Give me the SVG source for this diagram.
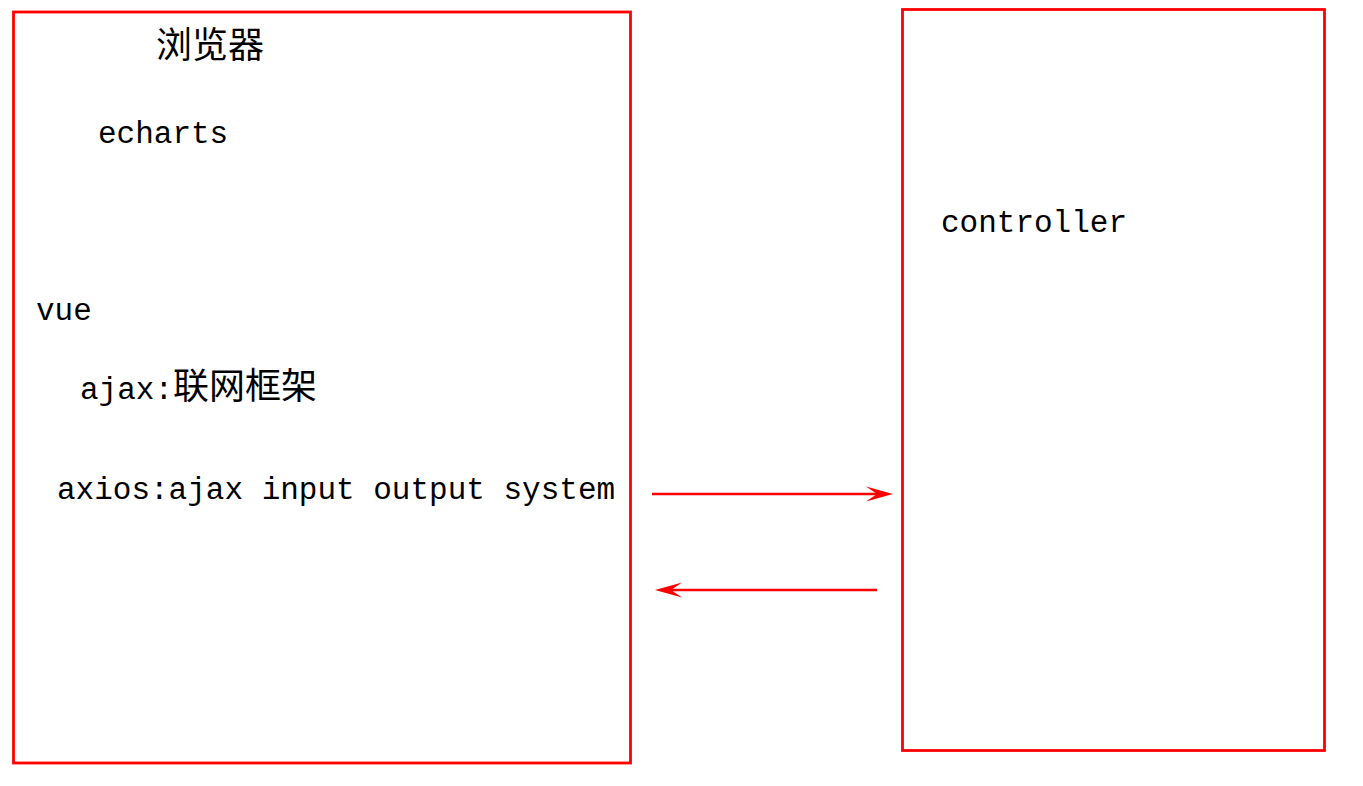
<svg xmlns="http://www.w3.org/2000/svg" width="1363" height="786" viewBox="0 0 1363 786">
<style>
.box{fill:none;stroke:#ff0000;stroke-width:2.8}
.t{font-family:"Liberation Mono",monospace;font-size:31px;fill:#000}
.cjk{font-family:"Noto Sans CJK SC","Noto Sans",sans-serif;font-size:36px}
.conn{stroke:#ff0000;stroke-width:2.5;fill:none}
</style>
<defs>
<marker id="arr" markerUnits="userSpaceOnUse" markerWidth="30" markerHeight="16" viewBox="0 0 30 16" refX="16" refY="8" orient="auto">
<path d="M0,0.5 L27,8 L0,15.5 L11,8 Z" fill="#ff0000"/>
</marker>
</defs>
<rect width="1363" height="786" fill="#ffffff"/>
<g id="browser">
<rect class="box" x="13.5" y="12" width="617" height="751"/>
<text class="t" x="156" y="58"><tspan class="cjk">浏览器</tspan></text>
<text class="t" x="98" y="143">echarts</text>
<text class="t" x="36" y="320">vue</text>
<text class="t" x="80" y="399">ajax:<tspan class="cjk" dx="0">联网框架</tspan></text>
<text class="t" x="57" y="499">axios:ajax input output system</text>
</g>
<g id="server">
<rect class="box" x="902.5" y="9.5" width="422" height="741"/>
<text class="t" x="941" y="232">controller</text>
</g>
<g id="connectors">
<line class="conn" x1="652" y1="494" x2="882" y2="494" marker-end="url(#arr)"/>
<line class="conn" x1="877" y1="590" x2="666" y2="590" marker-end="url(#arr)"/>
</g>
</svg>
